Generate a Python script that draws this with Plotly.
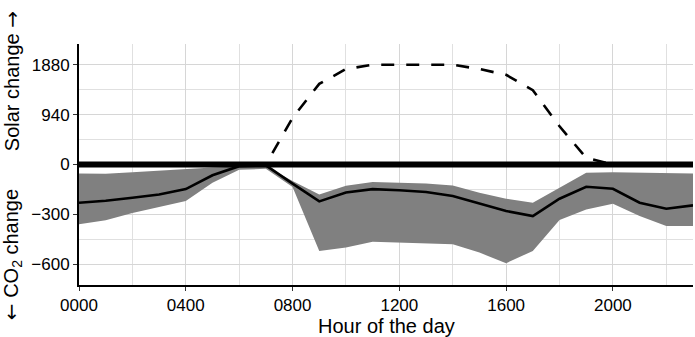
import plotly.graph_objects as go

# ---- data ----
hours = list(range(24))
x_tick_vals = [0, 4, 8, 12, 16, 20]
x_tick_labels = ["0000", "0400", "0800", "1200", "1600", "2000"]

solar = [0, 0, 0, 0, 0, 0, 0, 0, 880, 1520, 1800, 1880,
         1880, 1880, 1880, 1800, 1690, 1400, 720, 125, 0, 0, 0, 0]

co2_mean = [-230, -218, -200, -180, -148, -65, -10, -5, -115, -222, -168, -148,
            -155, -165, -190, -234, -280, -310, -206, -134, -146, -230, -266, -246]
co2_upper = [-54, -56, -46, -36, -26, -18, -12, -10, -100, -180, -128, -105,
             -110, -114, -126, -170, -206, -230, -140, -50, -46, -50, -54, -54]
co2_lower = [-360, -335, -292, -256, -220, -110, -32, -26, -135, -520, -500, -465,
             -470, -474, -480, -530, -594, -520, -334, -270, -236, -310, -370, -370]

y_tick_vals = [-600, -300, 0, 300, 600]
y_tick_labels = ["\u2212600", "\u2212300", "0", "940", "1880"]
solar_scale = 300 / 940  # solar axis 940 aligns with CO2 300

FONT = "Liberation Sans, Arial, sans-serif"
ARROW = '<span style="font-family:DejaVu Sans">{}</span>'

fig = go.Figure()
fig.add_trace(go.Scatter(x=hours, y=co2_upper, mode="lines", line=dict(width=0),
                         showlegend=False, hoverinfo="skip"))
fig.add_trace(go.Scatter(x=hours, y=co2_lower, mode="lines", line=dict(width=0),
                         fill="tonexty", fillcolor="#808080", showlegend=False,
                         hoverinfo="skip"))
fig.add_trace(go.Scatter(x=hours, y=co2_mean, mode="lines",
                         line=dict(color="black", width=2.6), showlegend=False))
fig.add_trace(go.Scatter(x=hours, y=[v * solar_scale for v in solar], mode="lines",
                         line=dict(color="black", width=2.6, dash="13px,12px"),
                         showlegend=False))
fig.add_hline(y=0, line=dict(color="black", width=6))

grid_major = "#d6d6d6"
grid_minor = "#e0e0e0"

fig.update_layout(
    width=695, height=337,
    margin=dict(l=79, r=2, t=44, b=52, autoexpand=False),
    paper_bgcolor="white", plot_bgcolor="white",
    font=dict(family=FONT, size=17, color="black"),
    xaxis=dict(
        range=[0, 23], tickvals=x_tick_vals, ticktext=x_tick_labels,
        automargin=False,
        showgrid=True, gridcolor=grid_major, gridwidth=1.3,
        minor=dict(tickvals=[2, 6, 10, 14, 18, 22], showgrid=True,
                   gridcolor=grid_minor, gridwidth=1.1, ticks=""),
        showline=True, linecolor="black", linewidth=2,
        ticks="outside", ticklen=4, tickcolor="#333333", tickwidth=1.2,
        zeroline=False, tickfont=dict(size=17, color="black"),
    ),
    yaxis=dict(
        range=[-725, 725], tickvals=y_tick_vals, ticktext=y_tick_labels,
        automargin=False,
        showgrid=True, gridcolor=grid_major, gridwidth=1.3,
        minor=dict(tickvals=[-450, -150, 150, 450], showgrid=True,
                   gridcolor=grid_minor, gridwidth=1.1, ticks=""),
        showline=True, linecolor="black", linewidth=2,
        ticks="outside", ticklen=4, tickcolor="#333333", tickwidth=1.2,
        zeroline=False, tickfont=dict(size=17, color="black"),
    ),
    annotations=[
        dict(text="Hour of the day", xref="paper", yref="paper", x=0.5, y=-0.17,
             xanchor="center", yanchor="middle", showarrow=False,
             font=dict(size=20, family=FONT)),
        dict(text="Solar change " + ARROW.format("\u2192"), xref="paper", yref="paper",
             x=-0.109, y=0.846,
             xanchor="center", yanchor="middle", textangle=-90, showarrow=False,
             font=dict(size=20, family=FONT)),
        dict(text=ARROW.format("\u2190") + " CO<sub>2</sub> change", xref="paper", yref="paper",
             x=-0.109, y=0.124,
             xanchor="center", yanchor="middle", textangle=-90, showarrow=False,
             font=dict(size=20, family=FONT)),
    ],
)

fig.write_html("out.html", config={"displayModeBar": False},
               post_script="document.body.style.margin='0px';")
